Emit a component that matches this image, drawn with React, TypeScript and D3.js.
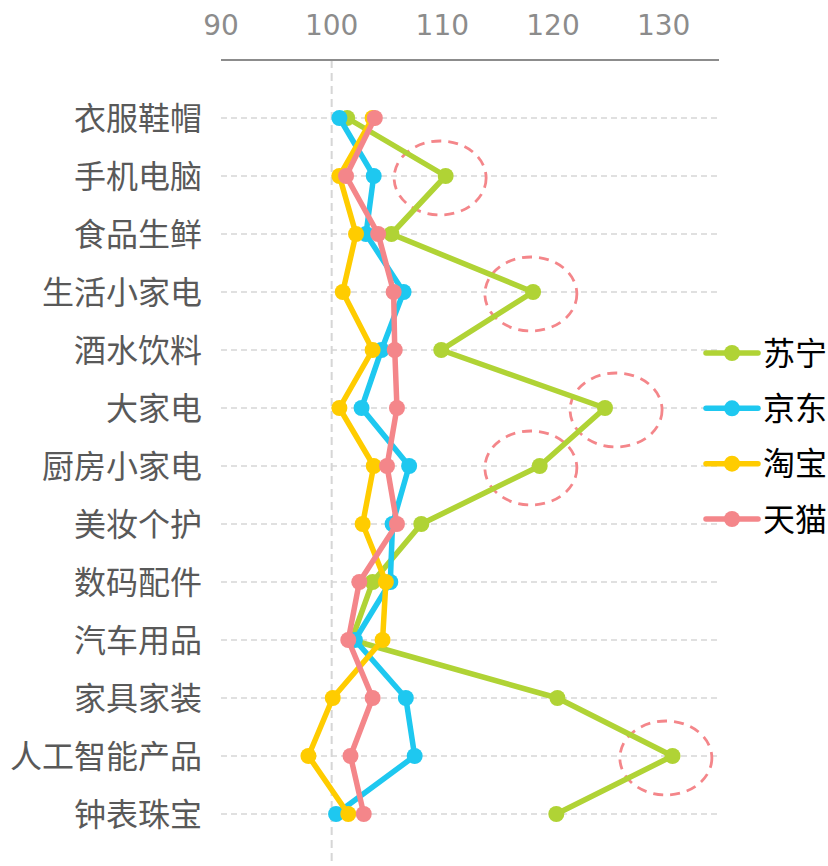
import * as d3 from "d3";
import { useEffect, useRef } from "react";

const categories = [
  "衣服鞋帽", "手机电脑", "食品生鲜", "生活小家电", "酒水饮料", "大家电", "厨房小家电",
  "美妆个护", "数码配件", "汽车用品", "家具家装", "人工智能产品", "钟表珠宝",
];
const suning = [101.4, 110.3, 105.4, 118.2, 109.9, 124.7, 118.8, 108.1, 103.7, 101.8, 120.4, 130.8, 120.3];
const jd = [100.7, 103.8, 103.1, 106.5, 104.5, 102.7, 107.0, 105.5, 105.3, 102.1, 106.7, 107.5, 100.4];
const taobao = [103.7, 100.7, 102.2, 101.0, 103.7, 100.7, 103.8, 102.8, 104.9, 104.6, 100.1, 97.9, 101.5];
const tmall = [103.9, 101.3, 104.2, 105.6, 105.7, 105.9, 105.0, 105.9, 102.5, 101.5, 103.7, 101.7, 102.9];
const seriesNames = ["苏宁", "京东", "淘宝", "天猫"];
const ticks = [90, 100, 110, 120, 130];
// dashed ellipse callouts: category + value of centre
const highlights = [
  { cat: "手机电脑", value: 109.8 },
  { cat: "生活小家电", value: 118.0 },
  { cat: "大家电", value: 125.7 },
  { cat: "厨房小家电", value: 118.0 },
  { cat: "人工智能产品", value: 130.2 },
];

const colors = ["#b0d335", "#1ec8f0", "#ffcc00", "#f4868a"];

export default function App() {
  const ref = useRef<SVGSVGElement | null>(null);
  useEffect(() => {
    if (!ref.current) return;
    const svg = d3.select(ref.current);
    svg.selectAll("*").remove();
    const H = 866;
    const x = d3.scaleLinear().domain([90, 135]).range([221, 719]);
    const y = d3.scalePoint<string>().domain(categories).range([60, 872]).padding(1);
    const series = [suning, jd, taobao, tmall];

    // horizontal grid
    svg.append("g")
      .selectAll("line")
      .data(categories)
      .enter()
      .append("line")
      .attr("x1", x(90))
      .attr("x2", x(135))
      .attr("y1", (d) => y(d)!)
      .attr("y2", (d) => y(d)!)
      .attr("stroke", "#d6d6d6")
      .attr("stroke-width", 1.6)
      .attr("stroke-dasharray", "6,4");

    // vertical reference at 100
    svg.append("line")
      .attr("x1", x(100)).attr("x2", x(100))
      .attr("y1", 60).attr("y2", H)
      .attr("stroke", "#d6d6d6")
      .attr("stroke-width", 2)
      .attr("stroke-dasharray", "8,5");

    // top axis
    svg.append("line")
      .attr("x1", x(90)).attr("x2", x(135))
      .attr("y1", 60).attr("y2", 60)
      .attr("stroke", "#8c8c8c")
      .attr("stroke-width", 2);
    svg.append("g")
      .selectAll("text")
      .data(ticks)
      .enter()
      .append("text")
      .attr("x", (d) => x(d))
      .attr("y", 35)
      .attr("text-anchor", "middle")
      .attr("font-family", "DejaVu Sans, Verdana, sans-serif")
      .attr("font-size", 28)
      .attr("fill", "#8c8c8c")
      .text((d) => d);

    // category labels
    svg.append("g")
      .selectAll("text")
      .data(categories)
      .enter()
      .append("text")
      .attr("x", 202)
      .attr("y", (d) => y(d)!)
      .attr("dy", "0.36em")
      .attr("text-anchor", "end")
      .attr("font-family", "Noto Sans CJK SC, sans-serif")
      .attr("font-size", 32)
      .attr("fill", "#595959")
      .text((d) => d);

    // highlight ellipses
    svg.append("g")
      .selectAll("ellipse")
      .data(highlights)
      .enter()
      .append("ellipse")
      .attr("cx", (d) => x(d.value))
      .attr("cy", (d) => y(d.cat)! + 2)
      .attr("rx", 46)
      .attr("ry", 37)
      .attr("fill", "none")
      .attr("stroke", "#f4868a")
      .attr("stroke-width", 2.8)
      .attr("stroke-dasharray", "10,7");

    const line = d3.line<number>()
      .x((d) => x(d))
      .y((_, i) => y(categories[i])!);

    series.forEach((vals, si) => {
      const g = svg.append("g");
      g.append("path")
        .attr("d", line(vals))
        .attr("fill", "none")
        .attr("stroke", colors[si])
        .attr("stroke-width", 5.5)
        .attr("stroke-linejoin", "round");
      g.selectAll("circle")
        .data(vals)
        .enter()
        .append("circle")
        .attr("cx", (d) => x(d))
        .attr("cy", (_, i) => y(categories[i])!)
        .attr("r", 8)
        .attr("fill", colors[si]);
    });

    // legend
    const legendY = d3.scalePoint<string>().domain(seriesNames).range([353, 519]);
    const lg = svg.append("g")
      .selectAll("g")
      .data(seriesNames)
      .enter()
      .append("g")
      .attr("transform", (d) => `translate(0,${legendY(d)})`);
    lg.append("line")
      .attr("x1", 706).attr("x2", 758)
      .attr("stroke", (_, i) => colors[i])
      .attr("stroke-width", 5.5)
      .attr("stroke-linecap", "round");
    lg.append("circle")
      .attr("cx", 732)
      .attr("r", 8)
      .attr("fill", (_, i) => colors[i]);
    lg.append("text")
      .attr("x", 763)
      .attr("dy", "0.36em")
      .attr("font-family", "Noto Sans CJK SC, sans-serif")
      .attr("font-size", 32)
      .attr("fill", "#000")
      .text((d) => d);
  }, []);
  return (
    <svg
      ref={ref}
      width={828}
      height={866}
      style={{ position: "absolute", left: 0, top: 0, background: "#fff" }}
    />
  );
}
